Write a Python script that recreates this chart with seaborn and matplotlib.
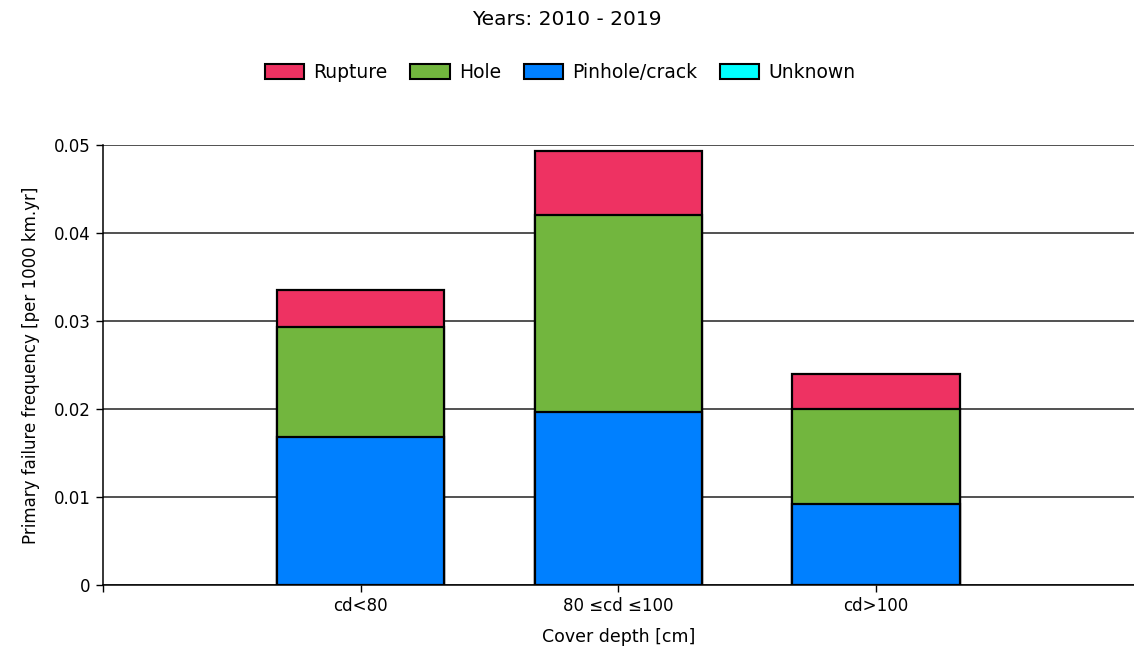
import numpy as np
import pandas as pd
import seaborn as sns
import matplotlib.pyplot as plt
from matplotlib.patches import Patch

sns.set_style('white')
plt.rcParams['font.family'] = ['DejaVu Sans']
plt.rcParams['text.color'] = 'black'

categories = ['cd<80', '80 \u2264cd \u2264100', 'cd>100']
pinhole = [0.0168, 0.0197, 0.0092]
hole = [0.0125, 0.0223, 0.0108]
rupture = [0.0042, 0.0073, 0.0040]
unknown = [0.0, 0.0, 0.0]

series = ['Rupture', 'Hole', 'Pinhole/crack', 'Unknown']
colors = {'Rupture': '#EE3262', 'Hole': '#72B63E',
          'Pinhole/crack': '#0080FF', 'Unknown': '#00FFFF'}


def main():
    df = pd.DataFrame({'cat': categories, 'Pinhole/crack': pinhole,
                       'Hole': hole, 'Rupture': rupture, 'Unknown': unknown})
    # cumulative totals, drawn tallest first so the stack shows through
    df['c_pin'] = df['Pinhole/crack']
    df['c_hole'] = df['c_pin'] + df['Hole']
    df['c_rup'] = df['c_hole'] + df['Rupture']

    fig = plt.figure(figsize=(11.34, 6.51), dpi=100)
    ax = fig.add_axes([0.0908, 0.1014, 0.9092, 0.6759])

    for col, name in [('c_rup', 'Rupture'), ('c_hole', 'Hole'),
                      ('c_pin', 'Pinhole/crack')]:
        sns.barplot(x='cat', y=col, data=df, color=colors[name],
                    saturation=1, width=0.65, edgecolor='black',
                    linewidth=1.6, ax=ax, zorder=3)

    ax.set_xlim(-1, 3)
    ax.set_ylim(0, 0.05)
    ax.set_yticks([0, 0.01, 0.02, 0.03, 0.04, 0.05])
    ax.set_yticklabels(['0', '0.01', '0.02', '0.03', '0.04', '0.05'])
    ax.set_xticks([-1, 0, 1, 2])
    ax.set_xticklabels([''] + categories)
    ax.yaxis.grid(True, color='#222222', linewidth=1.1, zorder=0)
    ax.set_axisbelow(True)
    ax.tick_params(axis='both', direction='out', length=5, width=1,
                   color='black', labelsize=12, labelcolor='black', pad=4,
                   left=True, bottom=True)
    for s in ['top', 'right']:
        ax.spines[s].set_visible(False)
    for s in ['left', 'bottom']:
        ax.spines[s].set_color('black')
        ax.spines[s].set_linewidth(1.1)

    ax.set_xlabel('Cover depth [cm]', fontsize=12.5, labelpad=9,
                  color='black')
    ax.set_ylabel('Primary failure frequency [per 1000 km.yr]',
                  fontsize=12, labelpad=10, color='black')

    fig.text(0.5, 0.97, 'Years: 2010 - 2019', ha='center', va='center',
             fontsize=14.5)
    handles = [Patch(facecolor=colors[n], edgecolor='black', linewidth=1.5,
                     label=n) for n in series]
    fig.legend(handles=handles, loc='center', bbox_to_anchor=(0.494, 0.889),
               ncol=4, frameon=False, fontsize=13.5, handlelength=2.1,
               handleheight=0.9, columnspacing=1.2, handletextpad=0.5)

    fig.savefig('out.png', dpi=100)
    plt.close()


if __name__ == '__main__':
    main()
